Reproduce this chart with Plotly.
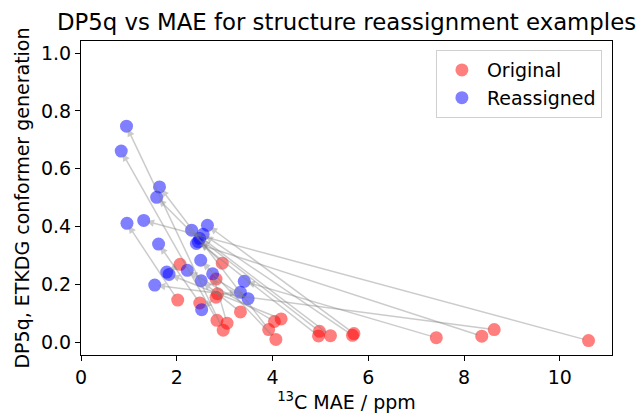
import plotly.graph_objects as go

# Original structures (13C MAE, DP5q)
orig_mae = [10.60, 8.63, 8.37, 7.42, 5.70, 5.67, 5.21, 4.98, 4.96, 4.18, 4.04, 3.92,
            4.07, 3.33, 3.05, 2.97, 2.84, 2.82, 2.85, 2.82, 2.95, 2.07, 2.02, 2.48]
orig_dp5 = [0.005, 0.043, 0.020, 0.015, 0.029, 0.023, 0.022, 0.037, 0.021, 0.080, 0.071, 0.043,
            0.009, 0.104, 0.065, 0.041, 0.075, 0.155, 0.167, 0.218, 0.273, 0.269, 0.145, 0.135]

# Reassigned structures, paired index-by-index with the originals
reas_mae = [1.31, 1.54, 2.41, 3.41, 2.64, 2.55, 2.31, 2.48, 2.45, 1.84, 2.22, 1.64,
            2.50, 2.51, 2.75, 0.95, 0.84, 2.52, 3.33, 3.49, 1.58, 1.79, 0.96, 1.62]
reas_dp5 = [0.421, 0.197, 0.341, 0.210, 0.404, 0.373, 0.387, 0.358, 0.347, 0.234, 0.248, 0.537,
            0.283, 0.212, 0.236, 0.747, 0.661, 0.112, 0.172, 0.150, 0.501, 0.242, 0.411, 0.339]

x_ticks = [0, 2, 4, 6, 8, 10]
y_ticks = [0.0, 0.2, 0.4, 0.6, 0.8, 1.0]

FONT = "DejaVu Sans"
FS = 19

fig = go.Figure()
fig.add_trace(go.Scatter(
    x=orig_mae, y=orig_dp5, mode="markers", name="Original",
    marker=dict(color="rgba(255,0,0,0.5)", size=13, line=dict(width=0)),
))
fig.add_trace(go.Scatter(
    x=reas_mae, y=reas_dp5, mode="markers", name="Reassigned",
    marker=dict(color="rgba(0,0,255,0.5)", size=13, line=dict(width=0)),
))

annotations = []
for xo, yo, xr, yr in zip(orig_mae, orig_dp5, reas_mae, reas_dp5):
    annotations.append(dict(
        x=xr, y=yr, ax=xo, ay=yo,
        xref="x", yref="y", axref="x", ayref="y",
        text="", showarrow=True,
        arrowhead=2, arrowsize=1.0, arrowwidth=1.5,
        arrowcolor="rgba(128,128,128,0.4)",
        standoff=3, startstandoff=3,
    ))

fig.update_layout(
    width=638, height=414,
    margin=dict(l=81, r=26, t=41, b=59, autoexpand=False),
    paper_bgcolor="white", plot_bgcolor="white",
    font=dict(family=FONT, size=FS, color="black"),
    title=dict(
        text="DP5q vs MAE for structure reassignment examples",
        x=0.5, xref="paper", xanchor="center",
        y=1 - 22 / 414, yref="container", yanchor="middle",
        font=dict(family=FONT, size=22.8, color="black"),
    ),
    showlegend=True,
    legend=dict(
        x=0.981, y=0.971, xanchor="right", yanchor="top",
        bgcolor="white", bordercolor="#d0d0d0", borderwidth=1,
        font=dict(family=FONT, size=FS, color="black"),
        itemwidth=40,
    ),
    annotations=annotations,
)

fig.update_xaxes(
    range=[0, 11.09], tickvals=x_ticks, ticktext=[str(v) for v in x_ticks],
    showgrid=False, zeroline=False, automargin=False,
    showline=True, linecolor="black", linewidth=1, mirror=True,
    ticks="outside", ticklen=5, tickwidth=1, tickcolor="black",
    tickfont=dict(family=FONT, size=FS),
    title=dict(text="<sup>13</sup>C MAE / ppm", standoff=8,
               font=dict(family=FONT, size=FS)),
)
fig.update_yaxes(
    range=[-0.045, 1.042], tickvals=y_ticks, ticktext=[f"{v:.1f}" for v in y_ticks],
    showgrid=False, zeroline=False, automargin=False,
    showline=True, linecolor="black", linewidth=1, mirror=True,
    ticks="outside", ticklen=5, tickwidth=1, tickcolor="black",
    tickfont=dict(family=FONT, size=FS),
    title=dict(text="DP5q, ETKDG conformer generation", standoff=6,
               font=dict(family=FONT, size=FS)),
)

fig.write_html("out.html")
